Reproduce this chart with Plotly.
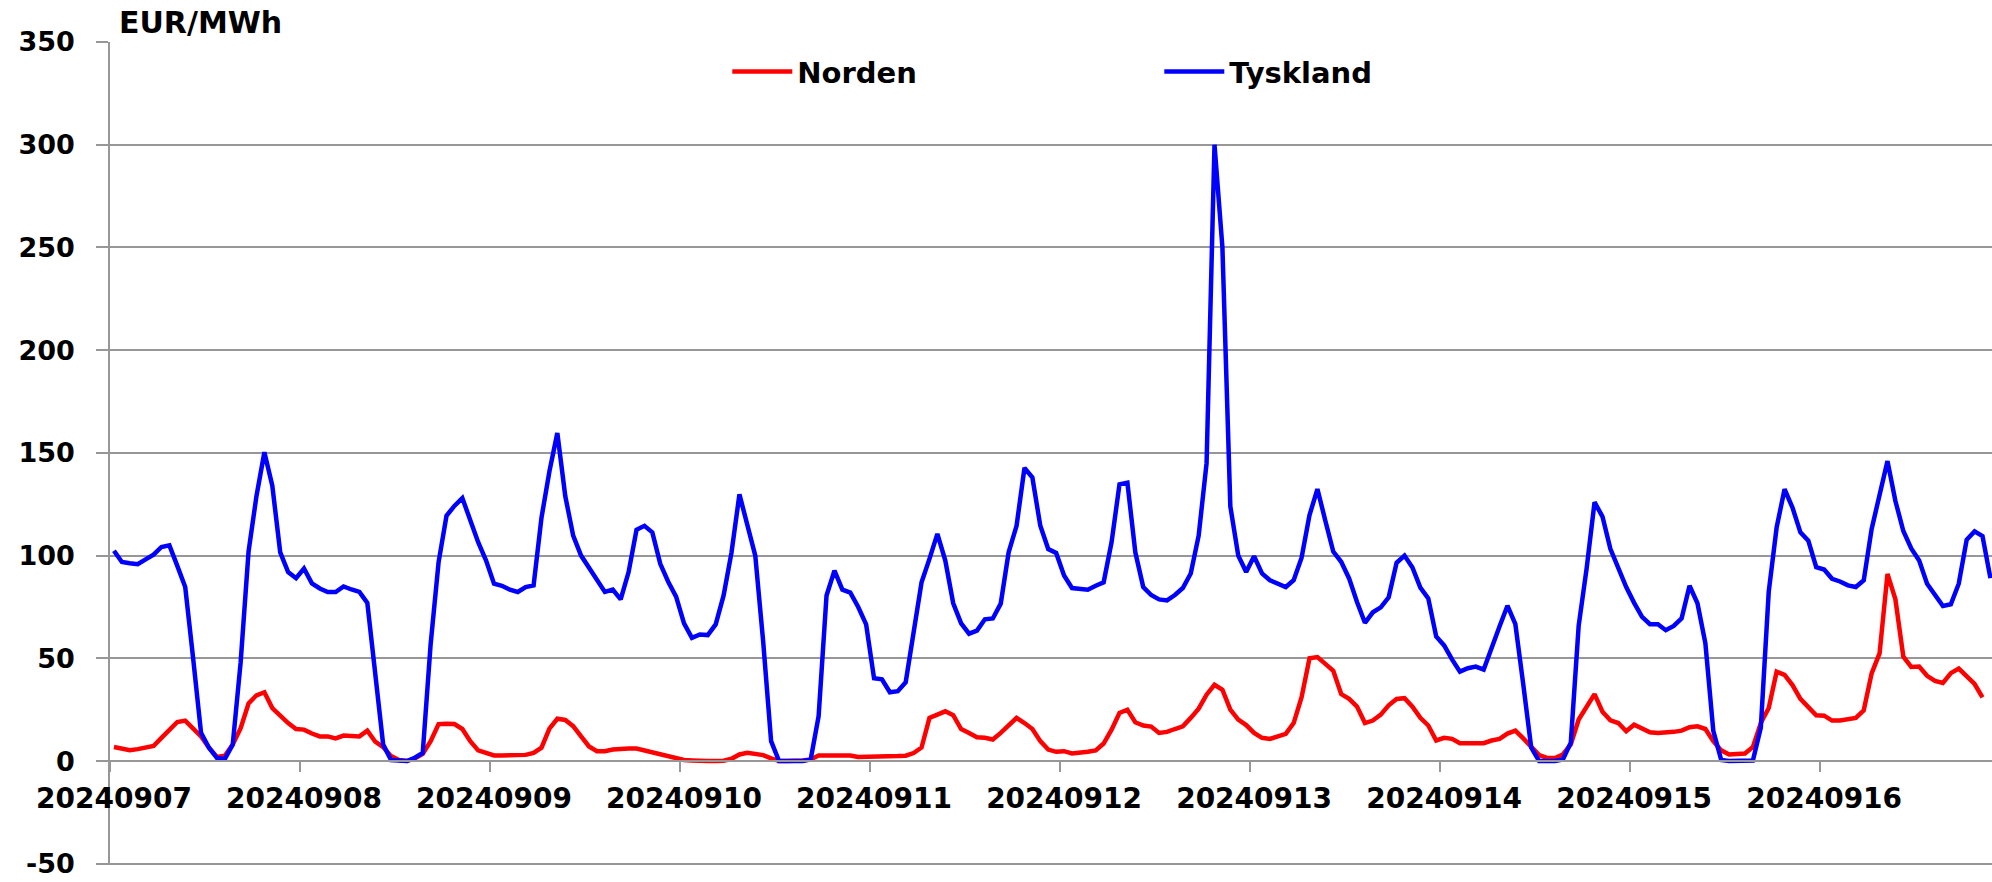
import plotly.graph_objects as go

dates = ["20240907", "20240908", "20240909", "20240910", "20240911",
         "20240912", "20240913", "20240914", "20240915", "20240916"]
hours_per_day = 24

norden = [
    6.8, 6.1, 5.3, 5.8, 6.6, 7.3, 11.3, 14.8, 19, 19.7, 16, 12, 6.5, 2, 2.6, 8, 16, 28, 32, 33.5, 25.8, 21.8, 18.5, 15.6,
    15.3, 13.4, 12, 12, 11, 12.4, 12, 12, 14.8, 9.4, 6.8, 2.4, 0.5, 0, 1.3, 3.5, 9.7, 18, 18.2, 18, 15.6, 9.7, 5.2, 4,
    2.7, 2.7, 2.7, 2.7, 3, 4, 6.5, 15.8, 20.6, 20, 17, 12, 7.1, 4.8, 4.8, 5.6, 6.1, 6.1, 6.1, 5.2, 3.9, 3.2, 2.1, 1.1,
    0.5, 0.3, 0, 0, 0, 0.2, 1.1, 3.2, 4, 3.5, 2.9, 1.3, 0, 0, 0, 0.3, 0.8, 2.7, 2.7, 2.7, 2.7, 2.7, 2, 2,
    2.4, 2.4, 2.4, 2.4, 2.6, 3.9, 6.6, 21, 22.6, 24.2, 22.3, 15.6, 13.7, 11.6, 11.3, 10.5, 13.7, 17.7, 21, 18.5, 15.6, 9.7, 5.6, 4.5,
    4.8, 3.7, 4, 4.5, 5.2, 8.5, 15.3, 23.4, 25, 18.9, 17.3, 16.8, 13.7, 14.2, 15.6, 16.9, 21, 25.5, 32.3, 37.1, 34.7, 25, 20.2, 17.5,
    13.7, 11.3, 10.8, 12.1, 13.2, 18.5, 31.1, 50, 50.6, 47.3, 43.9, 32.6, 30.3, 26.5, 18.5, 19.7, 22.6, 27.1, 30.2, 30.6, 26.5, 21, 17.3, 10,
    11.3, 10.8, 8.7, 8.7, 8.7, 8.7, 10, 10.8, 13.4, 14.8, 11, 7.3, 2.9, 1.5, 1.5, 3.2, 8.1, 20.2, 26.6, 32.6, 24, 19.8, 18.5, 14.5,
    17.7, 16.1, 14, 13.7, 13.7, 14.2, 14.8, 16.5, 16.9, 15.6, 9.7, 5.2, 3.2, 3.2, 3.7, 6.9, 18.5, 25.8, 43.5, 41.9, 37, 30.3, 26.6, 22.3,
    22.1, 19.7, 19.7, 20.2, 21, 24.7, 42.7, 52.4, 91.1, 78.7, 50.8, 45.8, 46, 41.5, 39, 38, 42.8, 45, 41.5, 37.5, 31,
]

tyskland = [
    102.4, 96.9, 96.3, 95.8, 98.2, 100.5, 104.2, 105, 95, 84.7, 50, 13.7, 6.5, 1.5, 1, 8, 48, 102, 129, 150.3, 134, 101.6, 92, 89,
    93.7, 86.5, 84, 82.3, 82.3, 85, 83.5, 82.3, 77, 43, 8, 0.5, 0, 0, 1.6, 4, 57, 96.8, 119.4, 124.2, 128, 117, 106.5, 97.6,
    86.3, 85.3, 83.4, 82.3, 84.7, 85.5, 118.5, 141, 159.7, 129, 109.7, 100, 94.4, 88, 82.3, 83.5, 78.7, 92, 112.6, 114.5, 111.3, 96, 87.3, 80,
    67, 60, 61.6, 61.3, 66.5, 80.6, 101.6, 129.8, 115.3, 100, 58, 9.7, 0, 0, 0, 0, 0.8, 21.8, 80.6, 92.7, 83.4, 82, 75, 66.5,
    40.3, 39.8, 33.5, 34, 38.4, 64.5, 87, 98.4, 110.6, 97.6, 76.8, 67, 62, 63.5, 69, 69.4, 76.6, 101.6, 114.5, 142.7, 138, 114.5, 103.2, 101.3,
    90.3, 84.2, 84, 83.4, 85.3, 87, 106.5, 134.7, 135.5, 101.6, 84.7, 80.8, 78.7, 78.2, 80.8, 84.2, 91.3, 109.7, 145, 300, 250, 124, 100, 92,
    99.7, 91.3, 88, 86.3, 84.7, 88, 99, 119.7, 132.4, 117, 102, 97, 88.9, 77.4, 67.3, 72.4, 74.8, 79.7, 96.5, 100, 94.2, 84.4, 79.2, 60.6,
    56.3, 49.5, 43.5, 45.2, 46, 44.5, 55.8, 65.5, 75.6, 66.6, 37.3, 6.6, 0, 0, 0, 0.8, 8.9, 66, 93.7, 126, 119, 103.3, 93.7, 84.7,
    77, 70.2, 66.6, 66.6, 63.7, 65.8, 69.5, 85.3, 76.8, 57.3, 14.7, 0.5, 0, 0, 0, 0.3, 16.3, 82.4, 113.7, 132.3, 123.4, 111.3, 107.3, 94.4,
    93.2, 88.7, 87.4, 85.5, 84.7, 88, 113, 129, 146, 126.6, 112, 103.5, 97.6, 86.3, 80.6, 75.5, 76.3, 86.3, 107.7, 111.8, 109.5, 89,
]

y_ticks = [-50, 0, 50, 100, 150, 200, 250, 300, 350]
y_tick_text = ["-50", "0", "50", "100", "150", "200", "250", "300", "350"]
y_range = [-50.6, 350]

FONT = "DejaVu Sans"
GRID = "#979797"

hours_n = list(range(len(norden)))
hours_t = list(range(len(tyskland)))
label_pos = [i * hours_per_day for i in range(len(dates))]
tick_pos = [i * hours_per_day - 0.5 for i in range(len(dates))]
x_range = [-0.5, 237.2]
zero_frac = (0 - y_range[0]) / (y_range[1] - y_range[0])

fig = go.Figure()
fig.add_trace(go.Scatter(x=hours_n, y=norden, mode="lines", name="Norden",
                         line=dict(color="#FF0000", width=4.5)))
fig.add_trace(go.Scatter(x=hours_t, y=tyskland, mode="lines", name="Tyskland",
                         line=dict(color="#0000FF", width=4.5)))

fig.update_layout(
    width=1992, height=882,
    margin=dict(l=110, r=0, t=42, b=17, autoexpand=False),
    paper_bgcolor="white", plot_bgcolor="white",
    font=dict(family=FONT, size=27, color="black", weight="bold"),
    showlegend=True,
    legend=dict(orientation="h", x=0.328, y=0.964, xanchor="left", yanchor="middle",
                font=dict(family=FONT, size=29, color="black", weight="bold"),
                bgcolor="rgba(0,0,0,0)", itemwidth=60, entrywidth=357, entrywidthmode="pixels"),
    xaxis=dict(
        range=x_range, anchor="free", position=zero_frac,
        tickmode="array", tickvals=label_pos, ticktext=dates,
        ticks="", showgrid=False, zeroline=False,
        showline=True, linecolor=GRID, linewidth=1.5,
        ticklabelstandoff=13,
        tickfont=dict(family=FONT, size=28, color="black", weight="bold"),
        minor=dict(tickmode="array", tickvals=tick_pos, ticks="outside",
                   ticklen=10, tickcolor=GRID, tickwidth=1.5, showgrid=False),
        automargin=False,
    ),
    yaxis=dict(
        range=y_range, tickmode="array", tickvals=y_ticks, ticktext=y_tick_text,
        ticks="outside", ticklen=12, tickcolor=GRID, tickwidth=1.5,
        showgrid=True, gridcolor=GRID, gridwidth=1.5,
        zeroline=False, showline=True, linecolor=GRID, linewidth=1.5,
        ticklabelstandoff=16, ticklabeloverflow="allow",
        tickfont=dict(family=FONT, size=27, color="black", weight="bold"),
        automargin=False,
    ),
    annotations=[dict(text="EUR/MWh", xref="paper", yref="paper", x=0.0035, y=1.0236,
                      xanchor="left", yanchor="middle", showarrow=False,
                      font=dict(family=FONT, size=30, color="black", weight="bold"))],
)

fig.write_html("out.html", config={"displayModeBar": False},
               post_script="document.body.style.margin='0';document.body.style.overflow='hidden';")
